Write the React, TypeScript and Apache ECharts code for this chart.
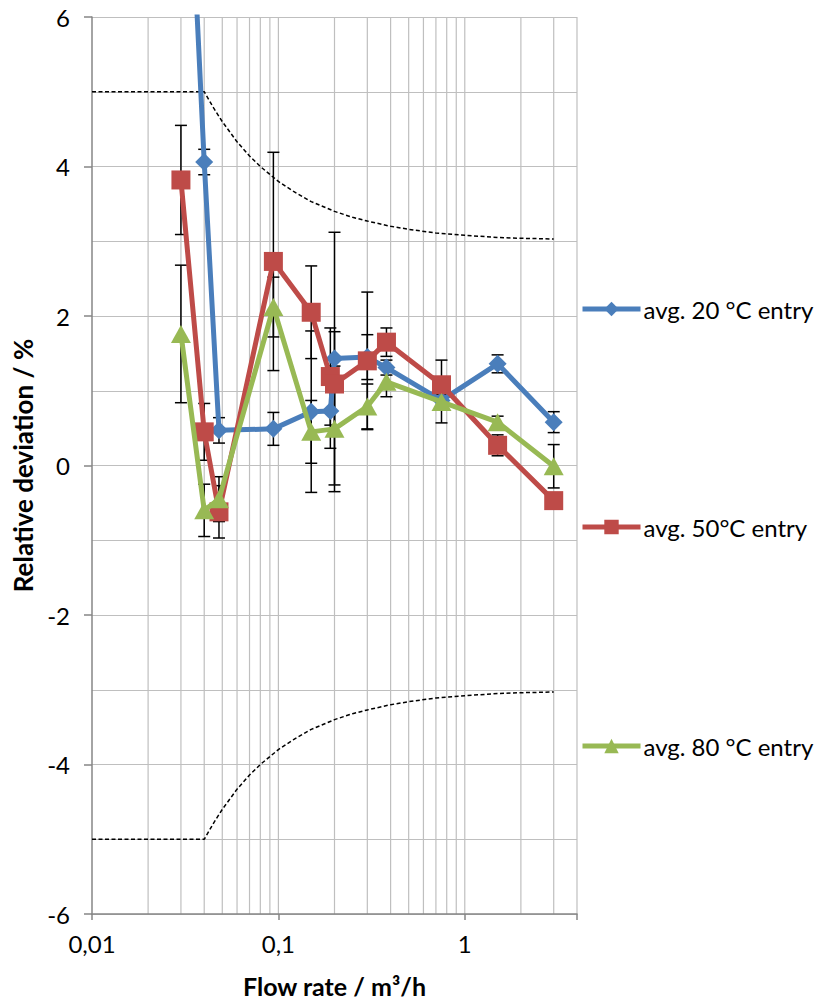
import React, { useEffect, useRef } from "react";
import * as echarts from "echarts";

// Series names and colours
const seriesNames = ["avg. 20 °C entry", "avg. 50°C entry", "avg. 80 °C entry"];
const seriesColors = ["#4a7ebb", "#be4b48", "#98b954"];
const seriesSymbols = ["diamond", "rect", "triangle"];

// avg. 20 °C entry
const flow20 = [0.03, 0.04, 0.048, 0.094, 0.15, 0.19, 0.2, 0.3, 0.38, 0.75, 1.5, 3];
const dev20 = [10.5, 4.06, 0.47, 0.49, 0.72, 0.73, 1.43, 1.45, 1.31, 0.87, 1.36, 0.58];
const err20 = [0, 0.17, 0.17, 0.22, 1.08, 0.5, 1.69, 0.3, 0.1, 0.3, 0.12, 0.14];

// avg. 50°C entry
const flow50 = [0.03, 0.04, 0.048, 0.094, 0.15, 0.19, 0.2, 0.3, 0.38, 0.75, 1.5, 3];
const dev50 = [3.82, 0.45, -0.62, 2.73, 2.05, 1.19, 1.09, 1.4, 1.65, 1.08, 0.27, -0.47];
const err50 = [0.73, 0.38, 0.35, 1.46, 0.62, 0.65, 0.7, 0.92, 0.19, 0.33, 0.14, 0.1];

// avg. 80 °C entry
const flow80 = [0.03, 0.04, 0.048, 0.094, 0.15, 0.2, 0.3, 0.38, 0.75, 1.5, 3];
const dev80 = [1.76, -0.6, -0.45, 2.12, 0.45, 0.49, 0.79, 1.12, 0.85, 0.58, -0.01];
const err80 = [0.92, 0.35, 0.3, 0.4, 0.42, 0.84, 0.3, 0.2, 0.1, 0.08, 0.29];

// Permissible error limits (dashed)
const limitFlow = [0.01, 0.04, 0.045, 0.05, 0.06, 0.07, 0.08, 0.1, 0.12, 0.15, 0.2, 0.25, 0.3, 0.4, 0.5, 0.7, 1, 1.5, 2, 3];
const limitUpper = [5, 5, 4.78, 4.6, 4.33, 4.14, 4.0, 3.8, 3.67, 3.53, 3.4, 3.32, 3.27, 3.2, 3.16, 3.11, 3.08, 3.05, 3.04, 3.03];
const limitLower = [-5, -5, -4.78, -4.6, -4.33, -4.14, -4.0, -3.8, -3.67, -3.53, -3.4, -3.32, -3.27, -3.2, -3.16, -3.11, -3.08, -3.05, -3.04, -3.03];

// Log-axis grid positions and tick labels
const gridFlows = [0.02, 0.03, 0.04, 0.05, 0.06, 0.07, 0.08, 0.09, 0.1, 0.2, 0.3, 0.4, 0.5, 0.6, 0.7, 0.8, 0.9, 1, 2, 3, 4];
const xTickValues = [0.01, 0.1, 1];
const xTickLabels = ["0,01", "0,1", "1"];

const FONT = "Lato";
const GRID_COLOR = "#bfbfbf";
const AXIS_COLOR = "#868686";

function pairs(xs: number[], ys: number[]) {
  return xs.map((x, i) => [x, ys[i]]);
}

function errorRanges(xs: number[], ys: number[], es: number[]) {
  return xs
    .map((x, i) => [x, ys[i] - es[i], ys[i] + es[i]])
    .filter((_, i) => es[i] > 0);
}

function errorBarSeries(data: number[][], z: number) {
  return {
    type: "custom",
    xAxisIndex: 0,
    yAxisIndex: 0,
    z,
    silent: true,
    encode: { x: 0, y: [1, 2] },
    data,
    renderItem: (_params: any, api: any) => {
      const x = api.value(0);
      const lo = api.coord([x, api.value(1)]);
      const hi = api.coord([x, api.value(2)]);
      const cap = 6;
      const style = { stroke: "#000", lineWidth: 1.5 };
      return {
        type: "group",
        children: [
          { type: "line", shape: { x1: hi[0], y1: hi[1], x2: lo[0], y2: lo[1] }, style },
          { type: "line", shape: { x1: hi[0] - cap, y1: hi[1], x2: hi[0] + cap, y2: hi[1] }, style },
          { type: "line", shape: { x1: lo[0] - cap, y1: lo[1], x2: lo[0] + cap, y2: lo[1] }, style },
        ],
      };
    },
  };
}

function labelFor(v: number) {
  const idx = xTickValues.findIndex((t) => Math.abs(Math.log10(t) - Math.log10(v)) < 1e-6);
  return idx >= 0 ? xTickLabels[idx] : "";
}

export default function App() {
  const ref = useRef<HTMLDivElement>(null);

  useEffect(() => {
    if (!ref.current) return;
    const chart = echarts.init(ref.current, null, { renderer: "svg" });

    const lineData = [pairs(flow20, dev20), pairs(flow50, dev50), pairs(flow80, dev80)];
    const errData = [errorRanges(flow20, dev20, err20), errorRanges(flow50, dev50, err50), errorRanges(flow80, dev80, err80)];
    const symbolSizes: any[] = [18, 19, [20, 18]];
    const legendTops = [297, 515, 734];

    const option: any = {
      animation: false,
      backgroundColor: "#fff",
      textStyle: { fontFamily: FONT },
      grid: { left: 92, top: 17, width: 485, height: 900, containLabel: false },
      xAxis: [
        {
          type: "log",
          logBase: 10,
          min: 0.01,
          max: 4,
          position: "bottom",
          name: "Flow rate / m³/h",
          nameLocation: "middle",
          nameGap: 59,
          nameTextStyle: { fontFamily: FONT, fontSize: 25, fontWeight: "bold", color: "#000" },
          axisLine: { show: false },
          axisTick: { show: false },
          splitLine: { show: false },
          axisLabel: {
            fontFamily: FONT,
            fontSize: 24,
            color: "#000",
            margin: 17,
            showMaxLabel: false,
            formatter: (v: number) => labelFor(v),
          },
        },
        {
          type: "log",
          logBase: 10,
          min: 0.01,
          max: 4,
          position: "bottom",
          axisLine: { show: true, onZero: true, lineStyle: { color: AXIS_COLOR, width: 1.5 } },
          axisTick: { show: true, length: 6, lineStyle: { color: AXIS_COLOR, width: 1.5 } },
          axisLabel: { show: false },
          splitLine: { show: false },
        },
      ],
      yAxis: {
        type: "value",
        min: -6,
        max: 6,
        interval: 2,
        name: "Relative deviation / %",
        nameLocation: "middle",
        nameGap: 51,
        nameTextStyle: { fontFamily: FONT, fontSize: 26, fontWeight: "bold", color: "#000" },
        axisLine: { show: true, lineStyle: { color: AXIS_COLOR, width: 1.5 } },
        axisTick: { show: true, length: 8, lineStyle: { color: AXIS_COLOR, width: 1.5 } },
        axisLabel: { fontFamily: FONT, fontSize: 24, color: "#000", margin: 22 },
        splitLine: { show: true, lineStyle: { color: GRID_COLOR, width: 1.2 } },
        minorTick: { show: false, splitNumber: 2 },
        minorSplitLine: { show: true, lineStyle: { color: GRID_COLOR, width: 1.2 } },
      },
      legend: seriesNames.map((name, i) => ({
        data: [name],
        left: 580,
        top: legendTops[i],
        padding: 0,
        itemWidth: 58,
        itemHeight: 18,
        itemGap: 4,
        selectedMode: false,
        lineStyle: { width: 5 },
        textStyle: { fontFamily: FONT, fontSize: 24, color: "#000", padding: [0, 0, 0, -2] },
      })),
      series: [
        {
          type: "custom",
          name: "grid",
          silent: true,
          z: 0,
          data: gridFlows.map((v) => [v]),
          encode: { x: 0 },
          renderItem: (_params: any, api: any) => {
            const v = api.value(0);
            const a = api.coord([v, 6]);
            const b = api.coord([v, -6]);
            return {
              type: "line",
              shape: { x1: a[0], y1: a[1], x2: b[0], y2: b[1] },
              style: { stroke: GRID_COLOR, lineWidth: 1.2 },
            };
          },
        },
        {
          type: "line",
          name: "limit+",
          data: pairs(limitFlow, limitUpper),
          showSymbol: false,
          silent: true,
          z: 1,
          lineStyle: { color: "#000", width: 1.5, type: [4, 2.5] },
        },
        {
          type: "line",
          name: "limit-",
          data: pairs(limitFlow, limitLower),
          showSymbol: false,
          silent: true,
          z: 1,
          lineStyle: { color: "#000", width: 1.5, type: [4, 2.5] },
        },
        ...errData.map((d) => errorBarSeries(d, 2)),
        ...seriesNames.map((name, i) => ({
          type: "line",
          name,
          data: lineData[i],
          z: 3 + i,
          clip: true,
          symbol: seriesSymbols[i],
          symbolSize: symbolSizes[i],
          showAllSymbol: true,
          color: seriesColors[i],
          itemStyle: { color: seriesColors[i] },
          lineStyle: { color: seriesColors[i], width: 5 },
        })),
      ],
    };

    chart.setOption(option);
    return () => chart.dispose();
  }, []);

  return (
    <div
      ref={ref}
      style={{ position: "absolute", left: 0, top: 0, width: 816, height: 1003, background: "#fff" }}
    />
  );
}
